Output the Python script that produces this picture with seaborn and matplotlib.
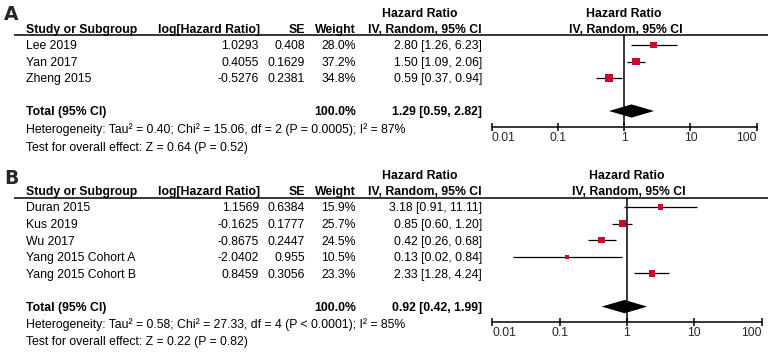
import numpy as np
import pandas as pd
import matplotlib
matplotlib.use("Agg")
import matplotlib.pyplot as plt
import seaborn as sns

# ---------------- data ----------------
a_study = ["Lee 2019", "Yan 2017", "Zheng 2015"]
a_loghr = ["1.0293", "0.4055", "-0.5276"]
a_se = ["0.408", "0.1629", "0.2381"]
a_weight = [28.0, 37.2, 34.8]
a_hr = [2.80, 1.50, 0.59]
a_lo = [1.26, 1.09, 0.37]
a_hi = [6.23, 2.06, 0.94]
a_total = [1.29, 0.59, 2.82]
a_total_weight = 100.0
a_het = "Heterogeneity: Tau² = 0.40; Chi² = 15.06, df = 2 (P = 0.0005); I² = 87%"
a_test = "Test for overall effect: Z = 0.64 (P = 0.52)"

b_study = ["Duran 2015", "Kus 2019", "Wu 2017", "Yang 2015 Cohort A", "Yang 2015 Cohort B"]
b_loghr = ["1.1569", "-0.1625", "-0.8675", "-2.0402", "0.8459"]
b_se = ["0.6384", "0.1777", "0.2447", "0.955", "0.3056"]
b_weight = [15.9, 25.7, 24.5, 10.5, 23.3]
b_hr = [3.18, 0.85, 0.42, 0.13, 2.33]
b_lo = [0.91, 0.60, 0.26, 0.02, 1.28]
b_hi = [11.11, 1.20, 0.68, 0.84, 4.24]
b_total = [0.92, 0.42, 1.99]
b_total_weight = 100.0
b_het = "Heterogeneity: Tau² = 0.58; Chi² = 27.33, df = 4 (P < 0.0001); I² = 85%"
b_test = "Test for overall effect: Z = 0.22 (P = 0.82)"

tick_values = [0.01, 0.1, 1, 10, 100]
tick_labels = ["0.01", "0.1", "1", "10", "100"]

# ---------------- style ----------------
sns.set_style("white")
plt.rcParams["font.family"] = ["Liberation Sans", "DejaVu Sans"]
FS = 8.8
RED = "#cc0a28"
W, H = 778, 353

fig = plt.figure(figsize=(W / 100, H / 100), dpi=100)
bg = fig.add_axes([0, 0, 1, 1])
bg.set_xlim(0, W)
bg.set_ylim(H, 0)
bg.axis("off")

CAP = 4.4  # half cap-height in px, to place baseline from visual centre


def txt(x, yc, s, ha="left", bold=False, size=FS):
    bg.text(x, yc + CAP, s, ha=ha, va="baseline", fontsize=size,
            fontweight="bold" if bold else "normal", color="black")


def panel(label, label_y, h1, h2, line_y, row0, dy, tot_i, het_y, test_y,
          x0, x1, axis_y, study, loghr, se, weight, hr, lo, hi, total, total_w,
          het, test):
    bg.text(4, label_y, label, fontsize=13.5, fontweight="bold", ha="left",
            va="baseline", family="DejaVu Sans")
    # headers
    txt(420, h1, "Hazard Ratio", ha="center", bold=True)
    one_x = x0 + (x1 - x0) * 0.5
    txt(one_x, h1, "Hazard Ratio", ha="center", bold=True)
    txt(26, h2, "Study or Subgroup", bold=True)
    txt(260, h2, "log[Hazard Ratio]", ha="right", bold=True)
    txt(305, h2, "SE", ha="right", bold=True)
    txt(356, h2, "Weight", ha="right", bold=True)
    txt(482, h2, "IV, Random, 95% CI", ha="right", bold=True)
    txt(one_x + 2, h2, "IV, Random, 95% CI", ha="center", bold=True)
    bg.plot([14, 768], [line_y, line_y], color="black", lw=1.1, solid_capstyle="butt")
    # rows
    for i in range(len(study)):
        y = row0 + i * dy
        txt(26, y, study[i])
        txt(259, y, loghr[i], ha="right")
        txt(305, y, se[i], ha="right")
        txt(356, y, f"{weight[i]:.1f}%", ha="right")
        txt(482, y, f"{hr[i]:.2f} [{lo[i]:.2f}, {hi[i]:.2f}]", ha="right")
    yt = row0 + tot_i * dy
    txt(26, yt, "Total (95% CI)", bold=True)
    txt(356, yt, f"{total_w:.1f}%", ha="right", bold=True)
    txt(482, yt, f"{total[0]:.2f} [{total[1]:.2f}, {total[2]:.2f}]", ha="right", bold=True)
    txt(26, het_y, het)
    txt(26, test_y, test)

    # forest axes
    ax = fig.add_axes([x0 / W, 1 - axis_y / H, (x1 - x0) / W, (axis_y - line_y) / H])
    ax.patch.set_visible(False)
    df = pd.DataFrame({"hr": hr, "lo": lo, "hi": hi, "weight": weight,
                       "row": np.arange(len(hr))})
    ax.hlines(df["row"], df["lo"], df["hi"], color="black", lw=0.9, zorder=2)
    sns.scatterplot(data=df, x="hr", y="row", size="weight", sizes=(0, 88),
                    size_norm=(0, 100), marker="s", color=RED, linewidth=0,
                    legend=False, ax=ax, zorder=3)
    ax.fill([total[1], total[0], total[2], total[0]],
            [tot_i, tot_i - 0.4, tot_i, tot_i + 0.4], color="black", lw=0, zorder=3)
    ax.axvline(1, color="black", lw=1.1, zorder=1)
    ax.set_xscale("log")
    ax.set_xlim(tick_values[0], tick_values[-1])
    ax.set_ylim((axis_y - row0) / dy, (line_y - row0) / dy)
    ax.set_xlabel("")
    ax.set_ylabel("")
    ax.set_yticks([])
    for s in ["top", "left", "right"]:
        ax.spines[s].set_visible(False)
    ax.spines["bottom"].set_linewidth(1.1)
    ax.spines["bottom"].set_color("black")
    ax.set_xticks(tick_values)
    ax.set_xticklabels(tick_labels)
    ax.minorticks_off()
    ax.tick_params(axis="x", direction="inout", length=6, width=1.1, color="black",
                   labelsize=FS, pad=0.5, bottom=True)
    labs = ax.get_xticklabels()
    labs[0].set_horizontalalignment("left")
    labs[-1].set_horizontalalignment("right")
    for sp in ax.spines.values():
        sp.set_clip_on(False)
    return ax


panel("A", 20, 12.7, 29, 35, 45, 16.5, 4, 128.3, 147, 491.7, 756.7, 127,
      a_study, a_loghr, a_se, a_weight, a_hr, a_lo, a_hi, a_total, a_total_weight,
      a_het, a_test)
panel("B", 183.5, 175, 191, 198, 207, 16.6, 6, 324, 340.7, 492.3, 761.7, 322,
      b_study, b_loghr, b_se, b_weight, b_hr, b_lo, b_hi, b_total, b_total_weight,
      b_het, b_test)

fig.savefig("out.png", dpi=100)
